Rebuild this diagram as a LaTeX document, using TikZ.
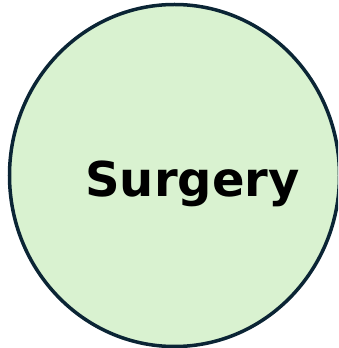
\documentclass[tikz,border=0pt]{standalone}
\usepackage{fontspec}
\usetikzlibrary{shapes.geometric}
\newfontfamily\labelfont{DejaVu Sans}
\definecolor{surgfill}{HTML}{D9F2D0}
\definecolor{surgline}{HTML}{0B2535}

\begin{document}
\begin{tikzpicture}[x=1pt, y=1pt, every node/.style={inner sep=0pt}]
	\useasboundingbox (0,0) rectangle (338,348);
	\clip (0,0) rectangle (338,348);
	\node[ellipse, draw=surgline, line width=3.5pt, fill=surgfill,
		minimum width=330pt, minimum height=342pt] (surgery) at (174.5,172.5) {};
	\node[anchor=base, font=\labelfont\bfseries\fontsize{48}{48}\selectfont] (title) at (192.5,151) {Surgery};
\end{tikzpicture}
\end{document}
